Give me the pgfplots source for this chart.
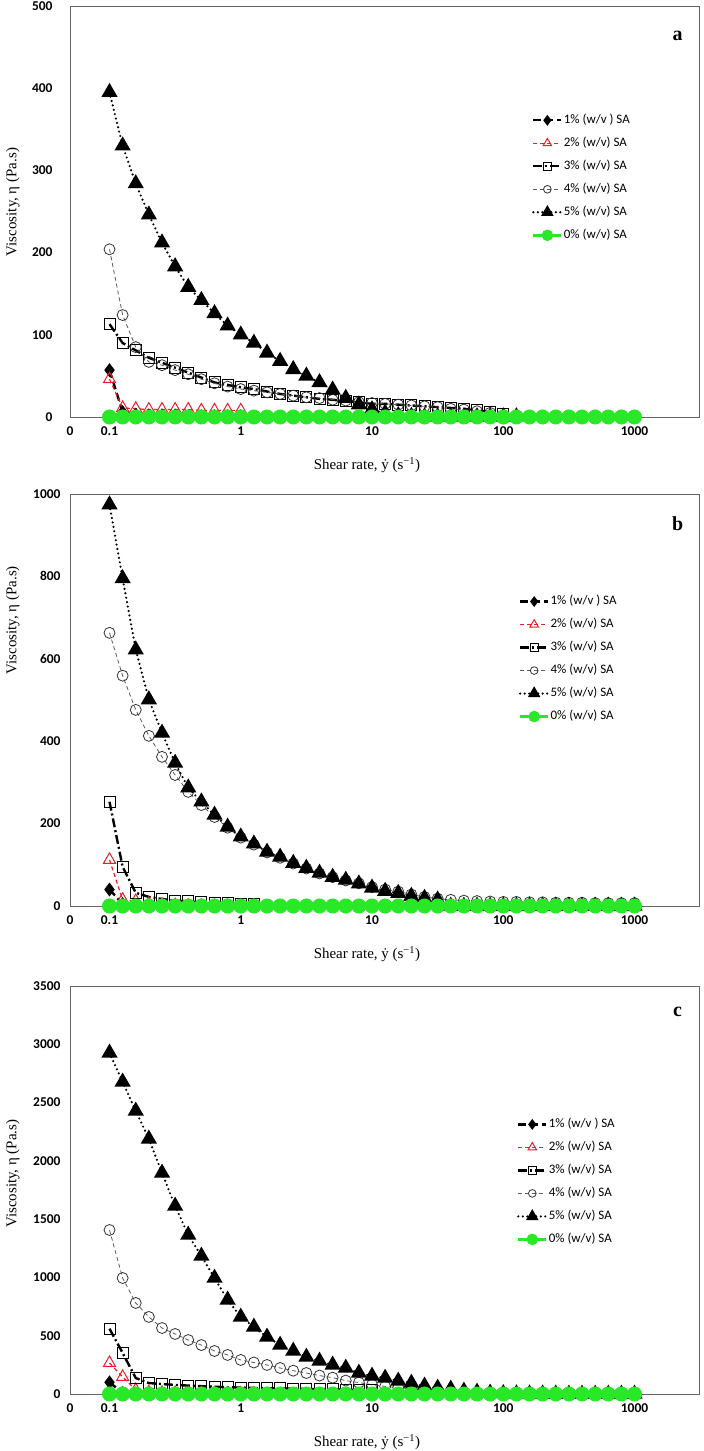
\documentclass[border=0pt]{standalone}
\usepackage{fontspec}
\setmainfont{Liberation Serif}
\newfontfamily\calibri{Carlito}
\usepackage{pgfplots}
\usepackage{pgfplotstable}
\pgfplotsset{compat=1.18}
\definecolor{sagreen}{RGB}{40,232,40}
\definecolor{sared}{RGB}{235,30,40}
\definecolor{sagray}{RGB}{90,90,90}
\definecolor{axgray}{RGB}{100,100,100}

% columns: x, 1%, 2%, 3%, 4%, 5%, 0%
\pgfplotstableread{
x s1 s2 s3 s4 s5 s0
0.1 57 46 113 204 395 0
0.1259 6 11 90 124 330 0
0.1585 3 10 81 85 284 0
0.1995 2 9 72 67 246 0
0.2512 2 9 66 63 212 0
0.3162 2 9 60 57 183 0
0.3981 1 9 54 52 158 0
0.5012 1 8 48 46 142 0
0.6310 1 8 42 41 126 0
0.7943 1 8 39 37 111 0
1 1 8 36 34 100 0
1.259 nan nan 34 32 90 0
1.585 nan nan 31 30 78 0
1.995 nan nan 28 28 68 0
2.512 nan nan 26 26 58 0
3.162 nan nan 24 24 50 0
3.981 nan nan 22 23 42 0
5.012 nan nan 21 21 33 0
6.310 nan nan 19 20 23 0
7.943 nan nan 18 18 15 0
10 nan nan 16 17 9 0
12.59 nan nan 16 16 5 0
15.85 nan nan 15 15 2 0
19.95 nan nan 14 14 1 0
25.12 nan nan 13 13 0.5 0
31.62 nan nan 12 12 0.5 0
39.81 nan nan 11 10 0.5 0
50.12 nan nan 10 9 0.5 0
63.10 nan nan 8 7 0.5 0
79.43 nan nan 6 5 0.5 0
100 nan nan 4 nan 0.5 0
125.9 nan nan nan nan 0.5 0
158.5 nan nan nan nan nan 0
199.5 nan nan nan nan nan 0
251.2 nan nan nan nan nan 0
316.2 nan nan nan nan nan 0
398.1 nan nan nan nan nan 0
501.2 nan nan nan nan nan 0
631.0 nan nan nan nan nan 0
794.3 nan nan nan nan nan 0
1000 nan nan nan nan nan 0
}\tabA

\pgfplotstableread{
x s1 s2 s3 s4 s5 s0
0.1 40 112 253 663 974 0
0.1259 5 15 95 559 795 0
0.1585 2 12 32 476 622 0
0.1995 1 5 22 413 501 0
0.2512 1 3 17 362 420 0
0.3162 0 2 13 318 347 0
0.3981 0 1 11 277 287 0
0.5012 0 1 9 245 253 0
0.6310 0 0 8 216 221 0
0.7943 0 0 7 190 192 0
1 0 0 6 166 168 0
1.259 nan nan 5 149 151 0
1.585 nan nan nan 130 131 0
1.995 nan nan nan 117 119 0
2.512 nan nan nan 103 104 0
3.162 nan nan nan 91 92 0
3.981 nan nan nan 79 80 0
5.012 nan nan nan 70 70 0
6.310 nan nan nan 62 63 0
7.943 nan nan nan 55 54 0
10 nan nan nan 46 44 0
12.59 nan nan nan 40 36 0
15.85 nan nan nan 35 31 0
19.95 nan nan nan 28 24 0
25.12 nan nan nan 22 19 0
31.62 nan nan nan 18 15 0
39.81 nan nan nan 15 0 0
50.12 nan nan nan 13 0 0
63.10 nan nan nan 12 0 0
79.43 nan nan nan 11 0 0
100 nan nan nan 10 0 0
125.9 nan nan nan 10 0 0
158.5 nan nan nan 9 0 0
199.5 nan nan nan 9 0 0
251.2 nan nan nan 8 0 0
316.2 nan nan nan 8 0 0
398.1 nan nan nan 8 0 0
501.2 nan nan nan 7 0 0
631.0 nan nan nan 7 0 0
794.3 nan nan nan 7 0 0
1000 nan nan nan 7 0 0
}\tabB

\pgfplotstableread{
x s1 s2 s3 s4 s5 s0
0.1 100 266 560 1407 2926 0
0.1259 10 146 352 995 2677 0
0.1585 3 34 137 781 2428 0
0.1995 2 15 94 661 2188 0
0.2512 1 10 85 566 1896 0
0.3162 1 8 78 515 1613 0
0.3981 1 6 72 463 1364 0
0.5012 0 5 67 420 1184 0
0.6310 0 5 62 369 995 0
0.7943 0 4 58 335 807 0
1 0 4 55 292 661 0
1.259 nan 3 52 270 575 0
1.585 nan nan 50 249 489 0
1.995 nan nan 48 223 420 0
2.512 nan nan 46 200 369 0
3.162 nan nan 44 180 317 0
3.981 nan nan 42 158 283 0
5.012 nan nan 40 140 249 0
6.310 nan nan 38 115 223 0
7.943 nan nan 35 98 180 0
10 nan nan 32 80 154 0
12.59 nan nan nan 65 137 0
15.85 nan nan nan 55 112 0
19.95 nan nan nan 45 94 0
25.12 nan nan nan 35 69 0
31.62 nan nan nan 27 51 0
39.81 nan nan nan 20 43 0
50.12 nan nan nan 15 26 0
63.10 nan nan nan 10 17 0
79.43 nan nan nan 7 9 0
100 nan nan nan 5 5 0
125.9 nan nan nan 3 3 0
158.5 nan nan nan 2 2 0
199.5 nan nan nan 1 1 0
251.2 nan nan nan 1 1 0
316.2 nan nan nan 0 0 0
398.1 nan nan nan 0 0 0
501.2 nan nan nan 0 0 0
631.0 nan nan nan 0 0 0
794.3 nan nan nan 0 0 0
1000 nan nan nan 0 0 0
}\tabC

\pgfplotsset{
  legend image code/.code={\draw[mark repeat=2,mark phase=2,#1,every mark/.append style={scale=0.7}] plot coordinates {(0bp,0bp) (14bp,0bp) (28bp,0bp)};},
  sOne/.style={black, line width=2.4bp, dash pattern=on 8bp off 4bp, mark=diamond*, mark size=5bp, mark options={solid, fill=black}},
  sTwo/.style={sared, line width=1.2bp, dash pattern=on 4bp off 3bp, mark=triangle, mark size=7bp, mark options={solid, line width=1bp}},
  sThree/.style={black, line width=2.4bp, dash pattern=on 9bp off 3bp on 2bp off 3bp, mark=square, mark size=5.5bp, mark options={solid, line width=1bp}},
  sFour/.style={sagray, line width=0.8bp, dash pattern=on 4bp off 3bp, mark=o, mark size=5.5bp, mark options={solid, line width=0.8bp, draw=black!80}},
  sFive/.style={black, line width=2.4bp, dash pattern=on 0bp off 4.5bp, line cap=round, mark=triangle*, mark size=7bp, mark options={solid, fill=black}},
  sZero/.style={sagreen, line width=3bp, solid, mark=*, mark size=6bp, mark options={fill=sagreen, draw=sagreen}},
}

\newcommand{\allseries}[1]{%
  \addplot[sOne] table[x=x,y=s1]{#1};
  \addlegendentry{1\% (w/v ) SA}
  \addplot[sTwo] table[x=x,y=s2]{#1};
  \addlegendentry{2\% (w/v) SA}
  \addplot[sThree] table[x=x,y=s3]{#1};
  \addlegendentry{3\% (w/v) SA}
  \addplot[sFour] table[x=x,y=s4]{#1};
  \addlegendentry{4\% (w/v) SA}
  \addplot[sFive] table[x=x,y=s5]{#1};
  \addlegendentry{5\% (w/v) SA}
  \addplot[sZero] table[x=x,y=s0]{#1};
  \addlegendentry{0\% (w/v) SA}
}

\begin{document}
\begin{tikzpicture}
\path[use as bounding box] (0,0) rectangle (704bp,1451bp);

% panel a
\begin{axis}[
    at={(70bp,1034bp)}, anchor=south west,
    scale only axis, width=629bp, height=411bp,
    xmode=log, xmin=0.05, xmax=3100, ymin=0, ymax=500,
    xtick={0.05,0.1,1,10,100,1000},
    xticklabels={0,0.1,1,10,100,1000},
    ytick={0,100,200,300,400,500},
    major tick length=0pt, minor tick length=0pt,
    axis line style={axgray, line width=0.9bp},
    clip=false,
    unbounded coords=jump,
    ticklabel style={font=\calibri\bfseries\fontsize{13.5}{15}\selectfont},
    /pgf/number format/assume math mode=true,
    /pgf/number format/1000 sep={},
    xticklabel style={yshift=-6bp},
    yticklabel style={xshift=-14bp},
    xlabel={Shear rate, \.{y} (s\textsuperscript{−1})},
    ylabel={Viscosity, η (Pa.s)},
    label style={font=\fontsize{15}{17}\selectfont},
    xlabel style={at={(axis description cs:0.472,0)}, anchor=center, yshift=-48bp},
    ylabel style={at={(axis description cs:-0.091,0.523)}, anchor=center},
    legend cell align=left,
    legend style={draw=none, fill=none, inner sep=0pt, anchor=north west,
      at={(axis description cs:0.734,0.740)},
      font=\calibri\fontsize{13}{15}\selectfont, row sep=8.5bp,
      nodes={inner sep=1bp, text height=9.5bp, text depth=3bp}},
  ]
\allseries{\tabA}
\node[font=\bfseries\fontsize{20}{22}\selectfont] at (axis description cs:0.966,0.927) {a};
\end{axis}

% panel b
\begin{axis}[
    at={(70bp,545bp)}, anchor=south west,
    scale only axis, width=629bp, height=412bp,
    xmode=log, xmin=0.05, xmax=3100, ymin=0, ymax=1000,
    xtick={0.05,0.1,1,10,100,1000},
    xticklabels={0,0.1,1,10,100,1000},
    ytick={0,200,400,600,800,1000},
    major tick length=0pt, minor tick length=0pt,
    axis line style={axgray, line width=0.9bp},
    clip=false,
    unbounded coords=jump,
    ticklabel style={font=\calibri\bfseries\fontsize{13.5}{15}\selectfont},
    /pgf/number format/assume math mode=true,
    /pgf/number format/1000 sep={},
    xticklabel style={yshift=-6bp},
    yticklabel style={xshift=-6bp},
    xlabel={Shear rate, \.{y} (s\textsuperscript{−1})},
    ylabel={Viscosity, η (Pa.s)},
    label style={font=\fontsize{15}{17}\selectfont},
    xlabel style={at={(axis description cs:0.472,0)}, anchor=center, yshift=-48bp},
    ylabel style={at={(axis description cs:-0.091,0.694)}, anchor=center},
    legend cell align=left,
    legend style={draw=none, fill=none, inner sep=0pt, anchor=north west,
      at={(axis description cs:0.713,0.757)},
      font=\calibri\fontsize{13}{15}\selectfont, row sep=8.5bp,
      nodes={inner sep=1bp, text height=9.5bp, text depth=3bp}},
  ]
\allseries{\tabB}
\node[font=\bfseries\fontsize{20}{22}\selectfont] at (axis description cs:0.966,0.927) {b};
\end{axis}

% panel c
\begin{axis}[
    at={(70bp,57bp)}, anchor=south west,
    scale only axis, width=629bp, height=408bp,
    xmode=log, xmin=0.05, xmax=3100, ymin=0, ymax=3500,
    xtick={0.05,0.1,1,10,100,1000},
    xticklabels={0,0.1,1,10,100,1000},
    ytick={0,500,1000,1500,2000,2500,3000,3500},
    major tick length=0pt, minor tick length=0pt,
    axis line style={axgray, line width=0.9bp},
    clip=false,
    unbounded coords=jump,
    ticklabel style={font=\calibri\bfseries\fontsize{13.5}{15}\selectfont},
    /pgf/number format/assume math mode=true,
    /pgf/number format/1000 sep={},
    xticklabel style={yshift=-6bp},
    yticklabel style={xshift=-6bp},
    xlabel={Shear rate, \.{y} (s\textsuperscript{−1})},
    ylabel={Viscosity, η (Pa.s)},
    label style={font=\fontsize{15}{17}\selectfont},
    xlabel style={at={(axis description cs:0.472,0)}, anchor=center, yshift=-48bp},
    ylabel style={at={(axis description cs:-0.091,0.54)}, anchor=center},
    legend cell align=left,
    legend style={draw=none, fill=none, inner sep=0pt, anchor=north west,
      at={(axis description cs:0.710,0.679)},
      font=\calibri\fontsize{13}{15}\selectfont, row sep=8.5bp,
      nodes={inner sep=1bp, text height=9.5bp, text depth=3bp}},
  ]
\allseries{\tabC}
\node[font=\bfseries\fontsize{20}{22}\selectfont] at (axis description cs:0.966,0.937) {c};
\end{axis}
\end{tikzpicture}
\end{document}
